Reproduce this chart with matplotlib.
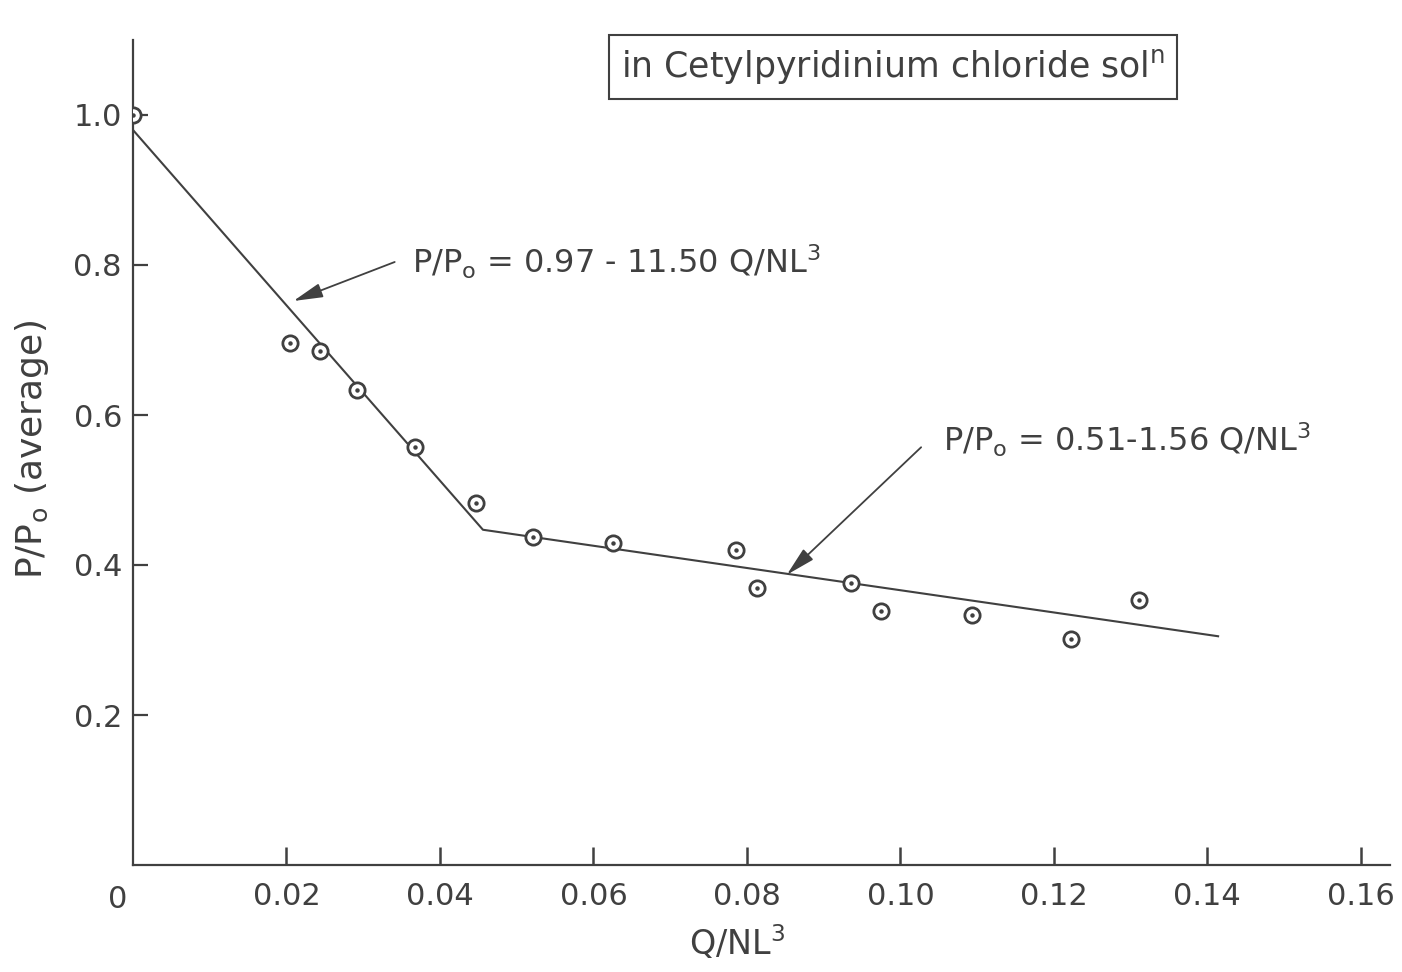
import matplotlib
matplotlib.use("Agg")
import matplotlib.pyplot as plt

# ---- data ----
q_x = [0.0, 0.0205, 0.0244, 0.0292, 0.0367, 0.0447, 0.0521, 0.0625, 0.0786,
       0.0813, 0.0936, 0.0975, 0.1093, 0.1222, 0.1311]
p_y = [1.0, 0.696, 0.685, 0.633, 0.557, 0.483, 0.437, 0.429, 0.420,
       0.369, 0.376, 0.339, 0.333, 0.301, 0.353]

fit_x = [0.0, 0.0456, 0.1414]
fit_y = [0.98, 0.447, 0.305]

xtick_vals = [0.02, 0.04, 0.06, 0.08, 0.10, 0.12, 0.14, 0.16]
xtick_labels = ["0.02", "0.04", "0.06", "0.08", "0.10", "0.12", "0.14", "0.16"]
ytick_vals = [0.2, 0.4, 0.6, 0.8, 1.0]
ytick_labels = ["0.2", "0.4", "0.6", "0.8", "1.0"]

eq1 = r"P/P$_\mathregular{o}$ = 0.97 - 11.50 Q/NL$^\mathregular{3}$"
eq2 = r"P/P$_\mathregular{o}$ = 0.51-1.56 Q/NL$^\mathregular{3}$"
title_txt = r"in Cetylpyridinium chloride sol$^\mathregular{n}$"

ink = "#404040"
plt.rcParams['font.family'] = ['DejaVu Sans']
plt.rcParams['mathtext.default'] = 'regular'

fig = plt.figure(figsize=(14.02, 9.72), dpi=100)
ax = fig.add_axes([133/1402, 1-865/972, (1390-133)/1402, (865-40)/972])
ax.set_xlim(0, 0.1638)
ax.set_ylim(0, 1.10)

for s in ["top", "right"]:
    ax.spines[s].set_visible(False)
for s in ["left", "bottom"]:
    ax.spines[s].set_color(ink)
    ax.spines[s].set_linewidth(1.6)

ax.set_xticks(xtick_vals)
ax.set_xticklabels(xtick_labels)
ax.set_yticks(ytick_vals)
ax.set_yticklabels(ytick_labels)
ax.tick_params(axis="x", direction="in", length=13, width=1.8, colors=ink,
               labelsize=22, pad=12, labelcolor=ink)
ax.tick_params(axis="y", direction="in", length=11, width=1.6, colors=ink,
               labelsize=22, pad=8, labelcolor=ink)
ax.text(-0.002, -0.027, "0", ha="center", va="top", fontsize=22, color=ink,
        transform=ax.transData, clip_on=False)

# fitted lines
ax.plot(fit_x, fit_y, color=ink, lw=1.5, zorder=2)

# data points: circle with dot
ax.plot(q_x, p_y, linestyle="none", marker="o", ms=11, mfc="white",
        mec=ink, mew=2.0, zorder=3)
ax.plot(q_x, p_y, linestyle="none", marker="o", ms=2.2, mfc=ink,
        mec=ink, zorder=4)

arrow_kw = dict(arrowstyle="-|>,head_length=0.9,head_width=0.22", color=ink,
                lw=1.3, shrinkA=0, shrinkB=0, mutation_scale=20)
ax.annotate("", xy=(0.0209, 0.752), xytext=(0.0341, 0.804), arrowprops=arrow_kw)
ax.text(0.0363, 0.804, eq1, fontsize=23, color=ink, va="center", ha="left")
ax.annotate("", xy=(0.0852, 0.387), xytext=(0.1027, 0.557), arrowprops=arrow_kw)
ax.text(0.1056, 0.567, eq2, fontsize=23, color=ink, va="center", ha="left")

fig.text(893/1402, 1-67/972, title_txt, fontsize=25, color=ink, ha="center",
         va="center",
         bbox=dict(boxstyle="square,pad=0.35", fc="white", ec=ink, lw=1.5))

fig.text(32/1402, 1-450/972, r"P/P$_\mathregular{o}$ (average)", fontsize=26,
         color=ink, rotation=90, ha="center", va="center")
fig.text(737/1402, 1-943/972, r"Q/NL$^\mathregular{3}$", fontsize=24,
         color=ink, ha="center", va="center")

fig.savefig("out.png", dpi=100, facecolor="white")
